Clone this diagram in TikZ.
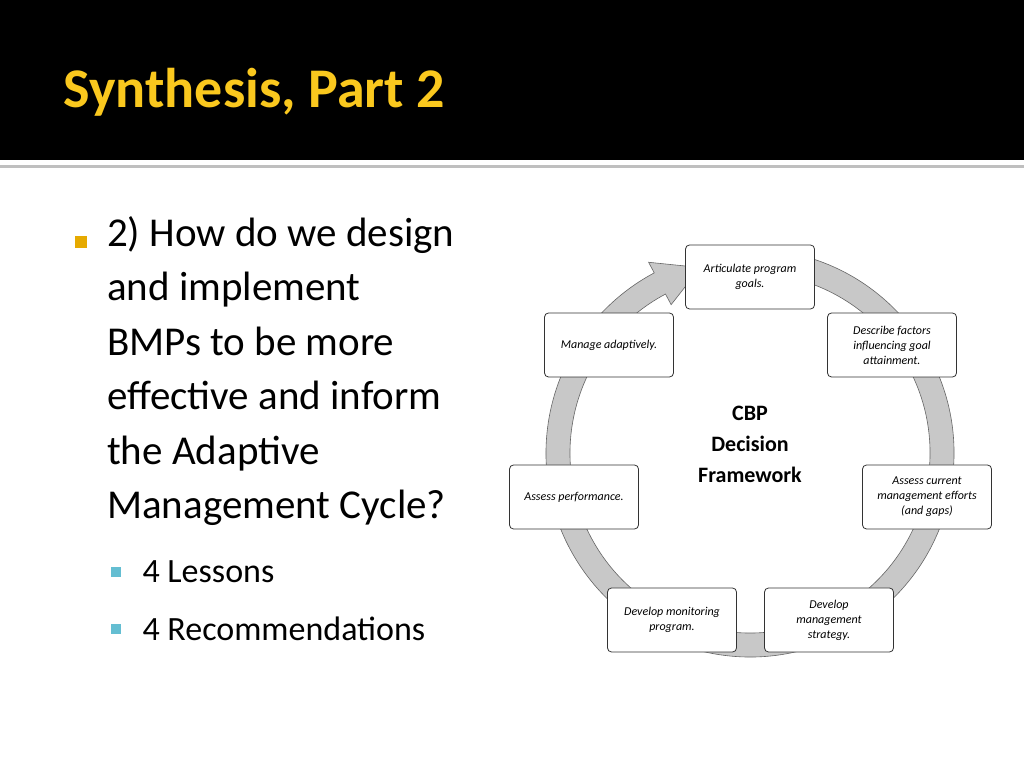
\documentclass[tikz,border=0pt]{standalone}
\usepackage{fontspec}
\setmainfont{Carlito}
\usetikzlibrary{positioning,calc}
\definecolor{titleyellow}{RGB}{250,200,30}
\definecolor{ringgray}{RGB}{200,200,200}
\definecolor{bulletyellow}{RGB}{230,170,0}
\definecolor{bulletblue}{RGB}{100,190,210}
\tikzset{
  stepbox/.style={rectangle, rounded corners=4pt, draw=black!80, fill=white,
    line width=0.8pt, minimum width=129pt, minimum height=64pt,
    align=center, font=\fontsize{12}{15}\selectfont\itshape},
  bodytext/.style={anchor=north west, align=left, inner sep=0pt}
}
\begin{document}
\begin{tikzpicture}[x=1pt,y=1pt]
  \useasboundingbox (0,0) rectangle (1024,768);
  \fill[white] (0,0) rectangle (1024,768);
  % title bar
  \fill[black] (0,608) rectangle (1024,768);
  \fill[black!25] (0,600) rectangle (1024,603);
  \node[anchor=west, text=titleyellow, font=\fontsize{56}{60}\selectfont\bfseries]
    (title) at (60,676) {Synthesis, Part 2};

  % bullets
  \fill[bulletyellow] (75,520) rectangle (87,532);
  \node[bodytext, font=\fontsize{41}{54.5}\selectfont] (question) at (107,552)
    {2) How do we design\\and implement\\BMPs to be more\\effective and inform\\the Adaptive\\Management Cycle?};
  \fill[bulletblue] (111,191) rectangle (121,201);
  \node[anchor=west, font=\fontsize{34}{40}\selectfont] (lessons) at (139,196) {4 Lessons};
  \fill[bulletblue] (111,134) rectangle (121,144);
  \node[anchor=west, font=\fontsize{34}{40}\selectfont] (recs) at (139,139) {4 Recommendations};

  % cycle ring
  \coordinate (c) at (750,315);
  \filldraw[fill=ringgray, draw=black!60, line width=0.6pt]
    ($(c)+(80:204)$) arc[start angle=80, end angle=-242, radius=204]
    -- ($(c)+(-242:216)$) -- ($(c)+(-255:192)$) -- ($(c)+(-242:168)$)
    -- ($(c)+(-242:180)$) arc[start angle=-242, end angle=80, radius=180] -- cycle;

  % steps
  \node[stepbox] (goals) at (750,491) {Articulate program\\goals.};
  \node[stepbox] (factors) at (892,423) {Describe factors\\influencing goal\\attainment.};
  \node[stepbox] (current) at (927,271) {Assess current\\management efforts\\(and gaps)};
  \node[stepbox] (strategy) at (829,148) {Develop\\management\\strategy.};
  \node[stepbox] (monitoring) at (672,148) {Develop monitoring\\program.};
  \node[stepbox] (performance) at (574,271) {Assess performance.};
  \node[stepbox] (adaptive) at (609,423) {Manage adaptively.};

  \node[align=center, font=\fontsize{22}{31}\selectfont\bfseries] (cbp) at (750,324)
    {CBP\\Decision\\Framework};
\end{tikzpicture}
\end{document}
